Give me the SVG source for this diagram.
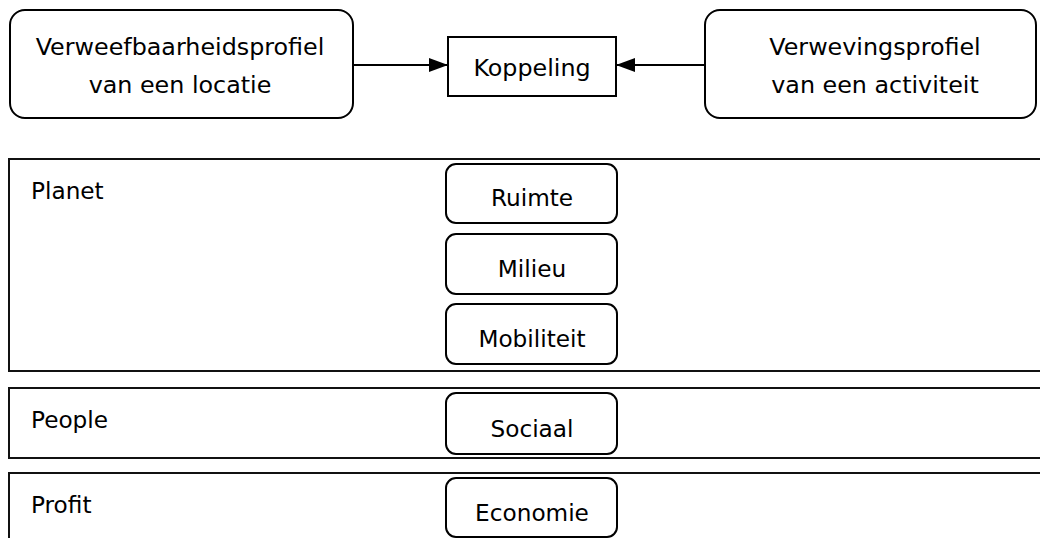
<svg xmlns="http://www.w3.org/2000/svg" width="1040" height="538" viewBox="0 0 1040 538">
<style>
  text { font-family: "DejaVu Sans", Verdana, sans-serif; fill: #000; }
  .big { font-size: 23.8px; text-anchor: middle; }
  .sec { font-size: 23.2px; }
  .sub { font-size: 23.2px; text-anchor: middle; }
  .box { fill: #fff; stroke: #000; stroke-width: 2; }
  .band { fill: #fff; stroke: #111; stroke-width: 2; }
  .con { stroke: #000; stroke-width: 2; fill: none; }
</style>
<defs>
  <marker id="arr" markerWidth="19" markerHeight="14" refX="19" refY="7" orient="auto" markerUnits="userSpaceOnUse">
    <path d="M0,0 L19,7 L0,14 Z" fill="#000"/>
  </marker>
</defs>
<rect width="1040" height="538" fill="#fff"/>

<g id="node-verweefbaarheid">
  <rect class="box" x="10" y="10" width="343" height="108" rx="15" ry="15"/>
  <text class="big" x="180" y="55">Verweefbaarheidsprofiel</text>
  <text class="big" x="180" y="93">van een locatie</text>
</g>
<g id="node-koppeling">
  <rect class="box" x="448" y="37" width="168" height="59"/>
  <text class="big" x="532" y="76">Koppeling</text>
</g>
<g id="node-verweving">
  <rect class="box" x="705" y="10" width="331" height="108" rx="15" ry="15"/>
  <text class="big" x="875" y="55">Verwevingsprofiel</text>
  <text class="big" x="875" y="93">van een activiteit</text>
</g>

<g id="connectors">
  <line class="con" x1="353" y1="65" x2="448" y2="65" marker-end="url(#arr)"/>
  <line class="con" x1="705" y1="65" x2="616" y2="65" marker-end="url(#arr)"/>
</g>

<g id="band-planet">
  <rect class="band" x="9" y="159" width="1045" height="212"/>
  <text class="sec" x="31" y="199">Planet</text>
</g>
<g id="node-ruimte">
  <rect class="box" x="446" y="164" width="171" height="59" rx="10" ry="10"/>
  <text class="sub" x="532" y="206">Ruimte</text>
</g>
<g id="node-milieu">
  <rect class="box" x="446" y="234" width="171" height="60" rx="10" ry="10"/>
  <text class="sub" x="532" y="277">Milieu</text>
</g>
<g id="node-mobiliteit">
  <rect class="box" x="446" y="304" width="171" height="60" rx="10" ry="10"/>
  <text class="sub" x="532" y="347">Mobiliteit</text>
</g>

<g id="band-people">
  <rect class="band" x="9" y="388" width="1045" height="70"/>
  <text class="sec" x="31" y="428">People</text>
</g>
<g id="node-sociaal">
  <rect class="box" x="446" y="393" width="171" height="61" rx="10" ry="10"/>
  <text class="sub" x="532" y="437">Sociaal</text>
</g>

<g id="band-profit">
  <rect class="band" x="9" y="473" width="1045" height="80"/>
  <text class="sec" x="31" y="513">Profit</text>
</g>
<g id="node-economie">
  <rect class="box" x="446" y="478" width="171" height="59" rx="10" ry="10"/>
  <text class="sub" x="532" y="521">Economie</text>
</g>
</svg>
